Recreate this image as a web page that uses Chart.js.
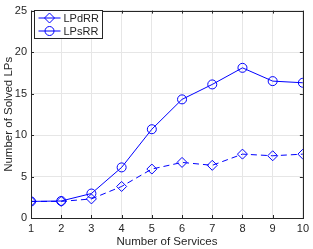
<!DOCTYPE html>
<html>
<head>
<meta charset="UTF-8">
<style>
  html, body { margin: 0; padding: 0; background: #fff; }
  #wrap { width: 313px; height: 249px; }
</style>
</head>
<body>
<div id="wrap"><canvas id="chart" width="313" height="249"></canvas></div>
<script src="https://cdn.jsdelivr.net/npm/chart.js"></script>
<script>
// Dữ liệu
const services = [1, 2, 3, 4, 5, 6, 7, 8, 9, 10];
const lpdrr = [2.0, 2.0, 2.3, 3.8, 5.9, 6.7, 6.35, 7.7, 7.5, 7.7];
const lpsrr = [2.0, 2.05, 2.95, 6.1, 10.7, 14.3, 16.1, 18.1, 16.5, 16.3];
const yTicks = [0, 5, 10, 15, 20, 25];
const seriesNames = ['LPdRR', 'LPsRR'];

const axisColor = '#262626';
const blue = '#0000ff';
const font = { family: 'Liberation Sans, Arial, sans-serif', size: 11 };
const titleFont = { family: 'Liberation Sans, Arial, sans-serif', size: 11.5 };

// Khung, vạch chia hướng vào trong và chú thích kiểu MATLAB
const matlabBox = {
  id: 'matlabBox',
  afterDraw(chart) {
    const { ctx, chartArea: a, scales } = chart;
    ctx.save();
    ctx.strokeStyle = axisColor;
    ctx.lineWidth = 1;
    ctx.strokeRect(Math.round(a.left) + 0.5, Math.round(a.top) + 0.5,
      Math.round(a.right - a.left), Math.round(a.bottom - a.top));
    const t = 3;
    ctx.beginPath();
    services.forEach(v => {
      const x = Math.round(scales.x.getPixelForValue(v)) + 0.5;
      ctx.moveTo(x, a.bottom); ctx.lineTo(x, a.bottom - t);
      ctx.moveTo(x, a.top); ctx.lineTo(x, a.top + t);
    });
    yTicks.forEach(v => {
      const y = Math.round(scales.y.getPixelForValue(v)) + 0.5;
      ctx.moveTo(a.left, y); ctx.lineTo(a.left + t, y);
      ctx.moveTo(a.right, y); ctx.lineTo(a.right - t, y);
    });
    ctx.stroke();

    // Chú thích
    const lx = 34.5, ly = 10.5, lw = 68, lh = 28;
    ctx.fillStyle = '#fff';
    ctx.fillRect(lx, ly, lw, lh);
    ctx.strokeStyle = axisColor;
    ctx.strokeRect(lx, ly, lw, lh);
    ctx.font = font.size + 'px ' + font.family;
    ctx.textBaseline = 'middle';
    seriesNames.forEach((name, i) => {
      const cy = ly + 7.5 + i * 13;
      ctx.strokeStyle = blue;
      ctx.beginPath();
      ctx.moveTo(lx + 4, cy); ctx.lineTo(lx + 26, cy);
      ctx.stroke();
      ctx.beginPath();
      if (i === 0) {
        ctx.moveTo(lx + 15, cy - 5); ctx.lineTo(lx + 20, cy);
        ctx.lineTo(lx + 15, cy + 5); ctx.lineTo(lx + 10, cy); ctx.closePath();
      } else {
        ctx.arc(lx + 15, cy, 4.5, 0, Math.PI * 2);
      }
      ctx.stroke();
      ctx.fillStyle = axisColor;
      ctx.fillText(name, lx + 29, cy + 0.5);
    });
    ctx.restore();
  }
};

new Chart(document.getElementById('chart'), {
  type: 'line',
  data: {
    labels: services,
    datasets: [
      {
        label: seriesNames[0],
        data: lpdrr,
        borderColor: blue,
        backgroundColor: 'rgba(0,0,0,0)',
        borderWidth: 1,
        borderDash: [6, 4],
        pointStyle: 'rectRot',
        pointRadius: 5,
        pointBorderWidth: 1,
        tension: 0
      },
      {
        label: seriesNames[1],
        data: lpsrr,
        borderColor: blue,
        backgroundColor: 'rgba(0,0,0,0)',
        borderWidth: 1,
        pointStyle: 'circle',
        pointRadius: 4.5,
        pointBorderWidth: 1,
        tension: 0
      }
    ]
  },
  options: {
    responsive: false,
    animation: false,
    devicePixelRatio: 1,
    layout: { padding: { top: 4, right: 6, left: 0, bottom: 0 } },
    plugins: { legend: { display: false }, tooltip: { enabled: false } },
    scales: {
      x: {
        type: 'linear',
        min: 1, max: 10,
        afterFit(scale) { scale.height = 31; },
        afterBuildTicks(scale) { scale.ticks = services.map(v => ({ value: v })); },
        grid: { color: '#e6e6e6', drawTicks: false },
        border: { display: false },
        ticks: { color: axisColor, font, padding: 4, maxRotation: 0 },
        title: { display: true, text: 'Number of Services', color: axisColor, font: titleFont, padding: { top: 0, bottom: 0 } }
      },
      y: {
        min: 0, max: 25,
        afterFit(scale) { scale.width = 31; },
        afterBuildTicks(scale) { scale.ticks = yTicks.map(v => ({ value: v })); },
        grid: { color: '#e6e6e6', drawTicks: false },
        border: { display: false },
        ticks: { color: axisColor, font, padding: 4 },
        title: { display: true, text: 'Number of Solved LPs', color: axisColor, font: titleFont, padding: { top: 2, bottom: 0 } }
      }
    }
  },
  plugins: [matlabBox]
});
</script>
</body>
</html>
